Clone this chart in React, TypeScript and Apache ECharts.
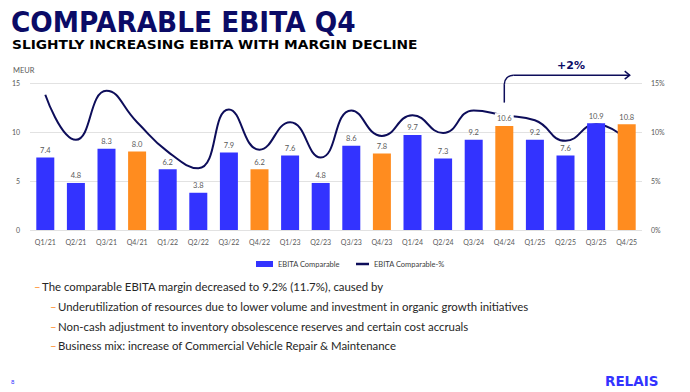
import React, { useEffect, useRef } from 'react';
import * as echarts from 'echarts';

const categories = ['Q1/21', 'Q2/21', 'Q3/21', 'Q4/21', 'Q1/22', 'Q2/22', 'Q3/22', 'Q4/22', 'Q1/23', 'Q2/23', 'Q3/23', 'Q4/23', 'Q1/24', 'Q2/24', 'Q3/24', 'Q4/24', 'Q1/25', 'Q2/25', 'Q3/25', 'Q4/25'];
const ebitaComparable = [7.4, 4.8, 8.3, 8.0, 6.2, 3.8, 7.9, 6.2, 7.6, 4.8, 8.6, 7.8, 9.7, 7.3, 9.2, 10.6, 9.2, 7.6, 10.9, 10.8];
const ebitaMarginPct = [13.8, 9.2, 14.2, 11.0, 8.0, 6.3, 12.3, 8.2, 11.0, 7.4, 12.2, 9.6, 11.7, 9.9, 12.2, 11.7, 11.2, 9.1, 10.8, 9.2];
const leftTicks = { min: 0, max: 15, interval: 5 };
const rightTicks = { min: 0, max: 15, interval: 5 };
const seriesNames = ['EBITA Comparable', 'EBITA Comparable-%'];
const titleText = 'COMPARABLE EBITA Q4';
const subtitleText = 'SLIGHTLY INCREASING EBITA WITH MARGIN DECLINE';
const unitText = 'MEUR';
const bullets = [
  { level: 0, text: 'The comparable EBITA margin decreased to 9.2% (11.7%), caused by' },
  { level: 1, text: 'Underutilization of resources due to lower volume and investment in organic growth initiatives' },
  { level: 1, text: 'Non-cash adjustment to inventory obsolescence reserves and certain cost accruals' },
  { level: 1, text: 'Business mix: increase of Commercial Vehicle Repair & Maintenance' },
];
const growthLabel = '+2%';
const growthFrom = 'Q4/24';
const growthTo = 'Q4/25';
const growthStartPct = 13.0;
const growthTopPct = 15.8;
const pageNumber = '8';
const logoText = 'RELAIS';

const BLUE = '#3333FF';
const ORANGE = '#FF8C1F';
const NAVY = '#0B0B66';
const LINE = '#0D0D5A';
const GREY = '#595959';
const BODY_FONT = 'Lato, "Open Sans", sans-serif';

export default function App() {
  const ref = useRef<HTMLDivElement>(null);
  useEffect(() => {
    if (!ref.current) return;
    const chart = echarts.init(ref.current, undefined, { renderer: 'svg' });
    const barData = ebitaComparable.map((v, i) => {
      const isQ4 = categories[i].startsWith('Q4');
      const item: any = { value: v, itemStyle: { color: isQ4 ? ORANGE : BLUE } };
      if (categories[i] === growthFrom) {
        item.label = { backgroundColor: '#ffffff', padding: [1, 2] };
      }
      return item;
    });

    const bulletGraphics: any[] = [];
    const bulletY = [288, 308, 328, 347];
    bullets.forEach((b, i) => {
      const dashX = b.level === 0 ? 34 : 50;
      bulletGraphics.push({
        type: 'text', left: dashX, top: bulletY[i] - 7,
        style: { text: '–', fill: ORANGE, font: `11.4px ${BODY_FONT}` },
      });
      bulletGraphics.push({
        type: 'text', left: dashX + 8, top: bulletY[i] - 7,
        style: { text: b.text, fill: '#262626', font: `11.4px ${BODY_FONT}` },
      });
    });

    const legendText = { fontSize: 7.5, color: '#404040', fontFamily: BODY_FONT };
    const option: any = {
      animation: false,
      backgroundColor: '#ffffff',
      grid: { left: 30, right: 48, top: 83, bottom: 162, containLabel: false },
      legend: [
        {
          data: [seriesNames[0]],
          top: 255,
          left: 251,
          icon: 'rect',
          itemWidth: 17,
          itemHeight: 6,
          textStyle: legendText,
        },
        {
          data: [seriesNames[1]],
          top: 255,
          left: 351,
          icon: 'rect',
          itemWidth: 13,
          itemHeight: 2.5,
          textStyle: legendText,
        },
      ],
      xAxis: {
        type: 'category',
        data: categories,
        axisLine: { show: false },
        axisTick: { show: false },
        axisLabel: { color: GREY, fontSize: 7, margin: 8, interval: 0, fontFamily: BODY_FONT },
      },
      yAxis: [
        {
          type: 'value', min: leftTicks.min, max: leftTicks.max, interval: leftTicks.interval,
          axisLine: { show: false }, axisTick: { show: false },
          axisLabel: { color: GREY, fontSize: 7, margin: 10, fontFamily: BODY_FONT },
          splitLine: { lineStyle: { color: '#E2E2E2', width: 1 } },
        },
        {
          type: 'value', min: rightTicks.min, max: rightTicks.max, interval: rightTicks.interval,
          axisLine: { show: false }, axisTick: { show: false },
          axisLabel: { color: GREY, fontSize: 7, margin: 9, formatter: '{value}%', fontFamily: BODY_FONT },
          splitLine: { show: false },
        },
      ],
      series: [
        {
          name: seriesNames[0],
          type: 'bar',
          data: barData,
          barWidth: 18,
          itemStyle: { color: BLUE },
          label: { show: true, position: 'top', distance: 3, fontSize: 7.5, color: GREY, fontFamily: BODY_FONT, formatter: (p: any) => p.value.toFixed(1) },
          z: 2,
        },
        {
          name: seriesNames[1],
          type: 'line',
          yAxisIndex: 1,
          data: ebitaMarginPct,
          smooth: 0.5,
          symbol: 'none',
          itemStyle: { color: LINE },
          lineStyle: { color: LINE, width: 2 },
          z: 1,
        },
      ],
      graphic: [
        { type: 'text', left: 11, top: 8, scaleX: 0.91, style: { text: titleText, fill: NAVY, font: 'bold 29px "DejaVu Sans", Verdana, sans-serif' } },
        { type: 'text', left: 12, top: 38, scaleX: 1.06, style: { text: subtitleText, fill: '#000000', font: 'bold 13px "DejaVu Sans", Verdana, sans-serif' } },
        { type: 'text', left: 13, top: 66, style: { text: unitText, fill: GREY, font: `7.5px ${BODY_FONT}` } },
        ...bulletGraphics,
        { type: 'text', left: 11, top: 378, style: { text: pageNumber, fill: BLUE, font: `6px ${BODY_FONT}` } },
        { type: 'text', left: 605, top: 374, style: { text: logoText, fill: BLUE, font: 'bold 13.5px "DejaVu Sans", sans-serif' } },
      ],
    };
    chart.setOption(option);

    const x0 = chart.convertToPixel({ xAxisIndex: 0 }, growthFrom) as number;
    const x1 = (chart.convertToPixel({ xAxisIndex: 0 }, growthTo) as number) + 3;
    const yStart = chart.convertToPixel({ yAxisIndex: 1 }, growthStartPct) as number;
    const yTop = chart.convertToPixel({ yAxisIndex: 1 }, growthTopPct) as number;
    const r = 9;
    const st = { stroke: LINE, lineWidth: 1.5, fill: 'none' };
    chart.setOption({
      graphic: [
        ...option.graphic,
        { type: 'line', shape: { x1: x0, y1: yStart, x2: x0, y2: yTop + r }, style: st },
        { type: 'arc', shape: { cx: x0 + r, cy: yTop + r, r, startAngle: Math.PI, endAngle: Math.PI * 1.5, clockwise: true }, style: st },
        { type: 'line', shape: { x1: x0 + r, y1: yTop, x2: x1, y2: yTop }, style: st },
        { type: 'polyline', shape: { points: [[x1 - 5, yTop - 4], [x1, yTop], [x1 - 5, yTop + 4]] }, style: st },
        { type: 'text', x: (x0 + x1) / 2 + 4, y: yTop - 10, style: { text: growthLabel, fill: NAVY, font: 'bold 11px "DejaVu Sans", sans-serif', align: 'center', verticalAlign: 'middle' } },
      ],
    }, { replaceMerge: ['graphic'] });

    return () => chart.dispose();
  }, []);
  return <div ref={ref} style={{ position: 'fixed', left: 0, top: 0, width: 690, height: 392 }} />;
}
